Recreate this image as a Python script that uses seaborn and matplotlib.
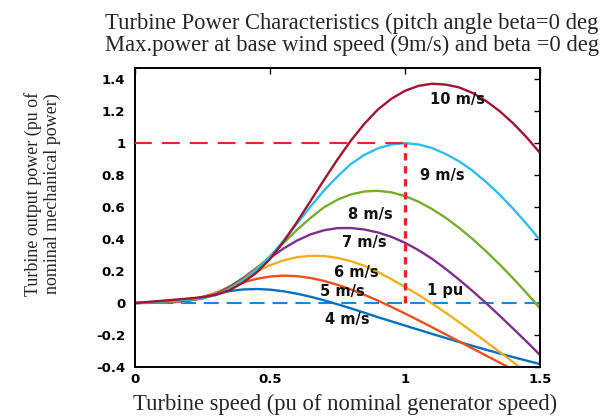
import matplotlib
matplotlib.use("Agg")
import matplotlib.pyplot as plt
import pandas as pd
import seaborn as sns

# ---------------- data ----------------
speed = [0.00, 0.05, 0.10, 0.15, 0.20, 0.25, 0.30, 0.35, 0.40, 0.45, 0.50,
         0.55, 0.60, 0.65, 0.70, 0.75, 0.80, 0.85, 0.90, 0.95, 1.00,
         1.05, 1.10, 1.15, 1.20, 1.25, 1.30, 1.35, 1.40, 1.45, 1.50]

wind_labels = ["4 m/s", "5 m/s", "6 m/s", "7 m/s", "8 m/s", "9 m/s", "10 m/s"]

p_4 = [0.0, 0.0011, 0.0024, 0.0064, 0.0187, 0.0379, 0.0583, 0.0749, 0.0849, 0.0878, 0.0837,
       0.0735, 0.0584, 0.0393, 0.0171, -0.0074, -0.0335, -0.0608, -0.0887, -0.1147, -0.1409,
       -0.1669, -0.1928, -0.2182, -0.2433, -0.2676, -0.2917, -0.3152, -0.3379, -0.3601, -0.3816]
p_5 = [0.0, 0.0018, 0.0036, 0.0065, 0.0159, 0.0365, 0.0660, 0.0985, 0.1282, 0.1513, 0.1659,
       0.1714, 0.1681, 0.1568, 0.1384, 0.1140, 0.0847, 0.0514, 0.0148, -0.0243, -0.0654,
       -0.1079, -0.1513, -0.1953, -0.2396, -0.2840, -0.3283, -0.3722, -0.4159, -0.4589, -0.5014]
p_6 = [0.0, 0.0026, 0.0051, 0.0080, 0.0148, 0.0321, 0.0630, 0.1049, 0.1515, 0.1969, 0.2363,
       0.2668, 0.2867, 0.2957, 0.2940, 0.2823, 0.2616, 0.2328, 0.1940, 0.1490, 0.1010,
       0.0510, -0.0030, -0.0600, -0.1190, -0.1800, -0.2420, -0.3050, -0.3690, -0.4330, -0.4970]
p_7 = [0.0, 0.0035, 0.0069, 0.0105, 0.0159, 0.0291, 0.0566, 0.1001, 0.1563, 0.2192, 0.2826,
       0.3411, 0.3906, 0.4292, 0.4552, 0.4686, 0.4692, 0.4600, 0.4410, 0.4140, 0.3770,
       0.3310, 0.2770, 0.2145, 0.1470, 0.0750, 0.0000, -0.0785, -0.1590, -0.2404, -0.3250]
p_8 = [0.0, 0.0045, 0.0091, 0.0136, 0.0190, 0.0292, 0.0515, 0.0914, 0.1494, 0.2150, 0.2920,
       0.3760, 0.4580, 0.5320, 0.5990, 0.6466, 0.6795, 0.6980, 0.7020, 0.6921, 0.6690,
       0.6341, 0.5880, 0.5340, 0.4710, 0.4010, 0.3240, 0.2420, 0.1550, 0.0630, -0.0320]
p_9 = [0.0, 0.0057, 0.0115, 0.0172, 0.0233, 0.0321, 0.0498, 0.0836, 0.1380, 0.2050, 0.2900,
       0.3900, 0.4970, 0.6030, 0.7040, 0.7920, 0.8700, 0.9270, 0.9675, 0.9919, 1.0000,
       0.9921, 0.9696, 0.9325, 0.8870, 0.8280, 0.7580, 0.6790, 0.5910, 0.4955, 0.3940]
p_10 = [0.0, 0.0071, 0.0142, 0.0213, 0.0285, 0.0371, 0.0517, 0.0795, 0.1273, 0.1900, 0.2750,
        0.3830, 0.5070, 0.6380, 0.7700, 0.8980, 1.0170, 1.1220, 1.2110, 1.2780, 1.3274,
        1.3583, 1.3717, 1.3663, 1.3490, 1.3140, 1.2640, 1.2010, 1.1250, 1.0370, 0.9390]

curves = [p_4, p_5, p_6, p_7, p_8, p_9, p_10]
colors = ["#0072BD", "#E8501E", "#EDB120", "#7E2F8E", "#77AC30", "#2FBDEE", "#A2142F"]

# reference lines: rated power (1 pu) and rated speed (1 pu), zero power
rated_h_x = [0.0, 1.0]
rated_h_y = [1.0, 1.0]
rated_v_x = [1.0, 1.0]
rated_v_y = [0.0, 1.0]
zero_x = [0.0, 1.5]
zero_y = [0.0, 0.0]

# curve label anchors (data coords)
label_pos = [(0.786, -0.106), (0.767, 0.075), (0.82, 0.19), (0.848, 0.38),
             (0.87, 0.556), (1.137, 0.80), (1.196, 1.27)]

xticks = [0, 0.5, 1, 1.5]
yticks = [-0.4, -0.2, 0, 0.2, 0.4, 0.6, 0.8, 1, 1.2, 1.4]

# ---------------- table ----------------
rows = []
for lab, vals in zip(wind_labels, curves):
    for s, p in zip(speed, vals):
        rows.append({"speed": s, "power": p, "wind": lab})
df = pd.DataFrame(rows)

# ---------------- style ----------------
sns.set_style("white")
plt.rcParams["font.family"] = ["DejaVu Sans"]
plt.rcParams["axes.unicode_minus"] = False

fig = plt.figure(figsize=(6.08, 4.18), dpi=100)
ax = fig.add_axes([135 / 608, 51 / 418, 405 / 608, 299 / 418])

ax.plot(zero_x, zero_y, color="#1b86d1", lw=1.5, ls=(0, (7.2, 3.8)), zorder=1.5)

sns.lineplot(data=df, x="speed", y="power", hue="wind", hue_order=wind_labels,
             palette=colors, linewidth=1.7, legend=False, errorbar=None, ax=ax,
             zorder=2)

ax.plot(rated_h_x, rated_h_y, color="#E3262B", lw=1.5, ls=(0.5, (8.6, 4.8)), zorder=3)
ax.plot(rated_v_x, rated_v_y, color="#E3262B", lw=2.4, ls=(0, (2.2, 1.7)), zorder=3)

for lab, (lx, ly) in zip(wind_labels, label_pos):
    ax.text(lx, ly, lab, ha="center", va="center", fontsize=10.5, fontweight="bold",
            color="#111111", zorder=4)
ax.text(1.15, 0.08, "1 pu", ha="center", va="center", fontsize=10.5, fontweight="bold",
        color="#111111", zorder=4)

ax.set_xlim(0, 1.5)
ax.set_ylim(-0.4, 1.47)
ax.set_xticks(xticks)
ax.set_xticklabels([f"{v:g}" for v in xticks])
ax.set_yticks(yticks)
ax.set_yticklabels([f"{v:g}" for v in yticks])
ax.tick_params(direction="in", length=4, width=1, top=True, right=True,
               labelsize=9.5, color="black", labelcolor="black")
ax.tick_params(axis="y", pad=7)
ax.tick_params(axis="x", pad=4)
for lbl in ax.get_xticklabels() + ax.get_yticklabels():
    lbl.set_fontweight("bold")
for sp in ax.spines.values():
    sp.set_visible(True)
    sp.set_color("black")
    sp.set_linewidth(1.4)
ax.set_xlabel("")
ax.set_ylabel("")

serif = ["Liberation Serif", "DejaVu Serif"]
fig.text(105 / 608, 1 - 29 / 418, "Turbine Power Characteristics (pitch angle beta=0 deg",
         ha="left", va="baseline", fontsize=16.3, family=serif)
fig.text(105 / 608, 1 - 51.5 / 418, "Max.power at base wind speed (9m/s) and beta =0 deg",
         ha="left", va="baseline", fontsize=16.3, family=serif)
fig.text(345 / 608, 1 - 410 / 418, "Turbine speed (pu of nominal generator speed)",
         ha="center", va="baseline", fontsize=16.3, family=serif)
fig.text(42.5 / 608, 1 - 194 / 418, "Turbine output power (pu of\nnominal mechanical power)",
         ha="center", va="center", rotation=90, fontsize=13, family=serif,
         linespacing=1.1)

fig.savefig("out.png", dpi=100)
